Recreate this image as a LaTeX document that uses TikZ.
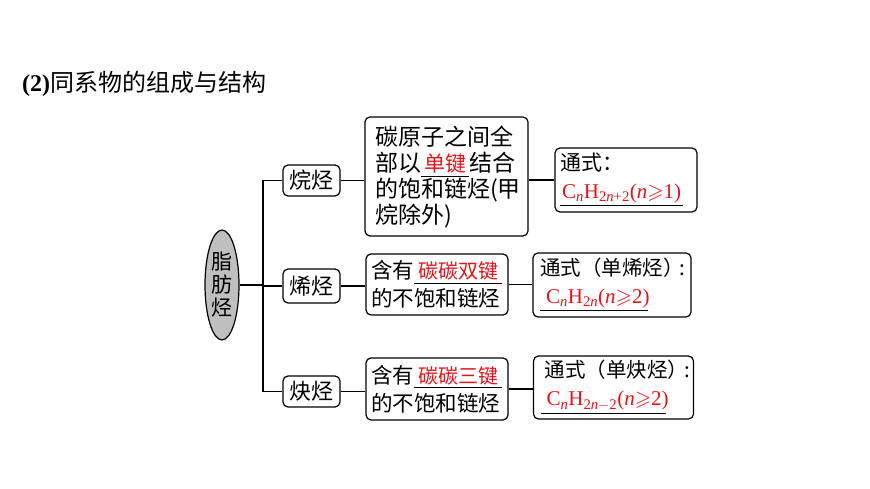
\documentclass[tikz,border=0pt]{standalone}
\usepackage{fontspec}
\usepackage{amssymb}
\setmainfont{Noto Sans CJK SC}
\newfontfamily\tm{Liberation Serif}
\usetikzlibrary{shapes.geometric}
\definecolor{fred}{RGB}{225,20,25}
\newcommand\fA{{\tm C\textsubscript{\textit{n}}H\textsubscript{2\textit{n}+2}(\textit{n}$\geqslant$1)}}
\newcommand\fB{{\tm C\textsubscript{\textit{n}}H\textsubscript{2\textit{n}}(\textit{n}$\geqslant$2)}}
\newcommand\fC{{\tm C\textsubscript{\textit{n}}H\textsubscript{2\textit{n}$-$2}(\textit{n}$\geqslant$2)}}
\begin{document}
\begin{tikzpicture}[x=1pt,y=-1pt,
  box/.style={draw, line width=1.2pt, rounded corners=5pt, inner sep=0pt},
  conn/.style={line width=1.2pt}]
\useasboundingbox (0,0) rectangle (870,489);
\node[anchor=west, inner sep=0pt, font=\fontsize{24}{28}\selectfont] (title) at (22,84) {{\tm\bfseries (2)}同系物的组成与结构};

\node[draw, ellipse, line width=1.2pt, fill=black!25, minimum width=34pt, minimum height=110pt, inner sep=0pt, align=center, font=\fontsize{21}{23}\selectfont] (root) at (222,285) {脂\\肪\\烃};

\node[box, minimum width=57pt, minimum height=31pt, font=\fontsize{22}{26}\selectfont] (a1) at (311.5,180.5) {烷烃};
\node[box, minimum width=57pt, minimum height=34pt, font=\fontsize{22}{26}\selectfont] (a2) at (311.5,286) {烯烃};
\node[box, minimum width=57pt, minimum height=31pt, font=\fontsize{22}{26}\selectfont] (a3) at (311.5,391.5) {炔烃};

\node[box, text width=143pt, inner xsep=10pt, minimum height=119pt, align=left, font=\fontsize{23}{26}\selectfont] (b1) at (446.5,176.5)
 {碳原子之间全\\部以\underline{\hbox{\hspace{3pt}\textcolor{fred}{\fontsize{21}{26}\selectfont 单键}\hspace{3pt}}}结合\\的饱和链烃(甲\\烷除外)};
\node[box, text width=132pt, inner xsep=5pt, minimum height=61pt, align=left, font=\fontsize{21.5}{28}\selectfont] (b2) at (437,284.5)
 {含有\underline{\makebox[88pt]{\textcolor{fred}{\fontsize{20}{28}\selectfont 碳碳双键}}}\\的不饱和链烃};
\node[box, text width=132pt, inner xsep=5pt, minimum height=62pt, align=left, font=\fontsize{21.5}{28}\selectfont] (b3) at (437,389)
 {含有\underline{\makebox[88pt]{\textcolor{fred}{\fontsize{20}{28}\selectfont 碳碳三键}}}\\的不饱和链烃};

\node[box, text width=132pt, inner xsep=5pt, minimum height=64pt, align=left, font=\fontsize{21}{28}\selectfont] (c1) at (626,180)
 {\mbox{通式：}\\\underline{\makebox[123pt][l]{\hspace{2pt}\textcolor{fred}{\fontsize{21}{28}\selectfont\fA}}}};
\node[box, text width=144pt, inner xsep=7pt, minimum height=64pt, align=left, font=\fontsize{20.5}{28}\selectfont] (c2) at (612,285)
 {\mbox{通式（单烯烃）\hspace{-4pt}:}\\\underline{\makebox[108pt][l]{\hspace{6pt}\textcolor{fred}{\fontsize{21}{28}\selectfont\fB}}}};
\node[box, text width=146pt, inner xsep=7pt, minimum height=63pt, align=left, font=\fontsize{20.5}{28}\selectfont] (c3) at (613.5,387.5)
 {\mbox{\hspace{4pt}通式（单炔烃）\hspace{-4pt}:}\\\underline{\makebox[125pt][l]{\hspace{6pt}\textcolor{fred}{\fontsize{21}{28}\selectfont\fC}}}};

\coordinate (trunk) at (263,285);
\draw[conn] (root.east) -- (trunk);
\draw[conn] (trunk |- a1.west) -- (trunk |- a3.west);
\draw[conn] (trunk |- a1.west) -- (a1.west);
\draw[conn] (trunk |- a2.west) -- (a2.west);
\draw[conn] (trunk |- a3.west) -- (a3.west);
\draw[conn] (a1.east) -- (a1.east -| b1.west);
\draw[conn] (a2.east) -- (a2.east -| b2.west);
\draw[conn] (a3.east) -- (a3.east -| b3.west);
\draw[conn] (b1.east |- c1.west) -- (c1.west);
\draw[conn] (b2.east) -- (b2.east -| c2.west);
\draw[conn] (b3.east) -- (b3.east -| c3.west);
\end{tikzpicture}
\end{document}
